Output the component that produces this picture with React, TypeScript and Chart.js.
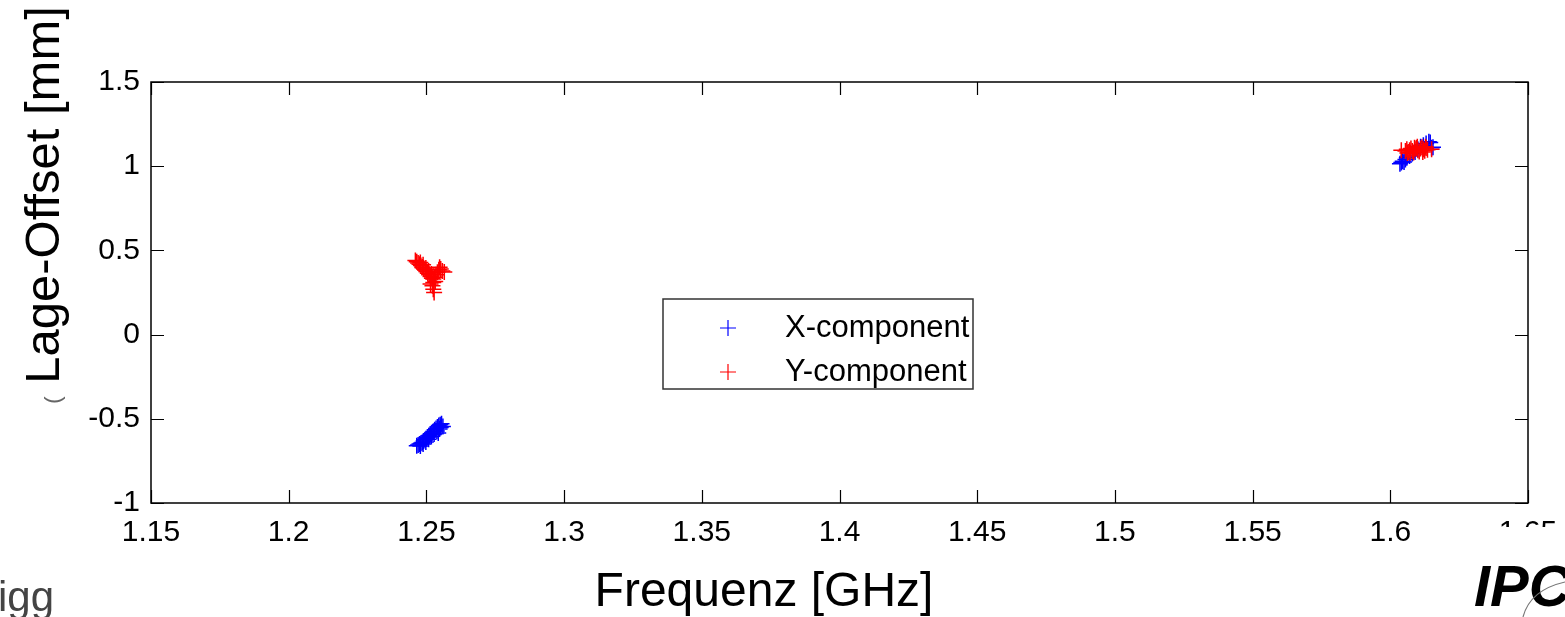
import { useEffect, useRef } from "react";
import { Chart, registerables } from "chart.js";

Chart.register(...registerables);

// Axis ticks
const xTicks = [1.15, 1.2, 1.25, 1.3, 1.35, 1.4, 1.45, 1.5, 1.55, 1.6, 1.65];
const yTicks = [-1, -0.5, 0, 0.5, 1, 1.5];

// Series names and colours
const seriesLabels = ["X-component", "Y-component"];
const seriesColors = ["#0000ff", "#ff0000"];

// X-component: frequency [GHz] and offset [mm]
const xCompFreq = [
  1.2465, 1.247, 1.2475, 1.248, 1.2478, 1.2485, 1.249, 1.2488, 1.2495, 1.25,
  1.2498, 1.2505, 1.251, 1.2508, 1.2515, 1.252, 1.2518, 1.2525, 1.253, 1.2528,
  1.2535, 1.254, 1.2538, 1.2545, 1.255, 1.2555, 1.2548, 1.256, 1.2552, 1.2543,
  1.6035, 1.604, 1.6045, 1.605, 1.6055, 1.606, 1.607, 1.608, 1.609, 1.61,
  1.611, 1.612, 1.613, 1.614, 1.6145, 1.615, 1.6155,
];
const xCompOffset = [
  -0.66, -0.655, -0.65, -0.645, -0.662, -0.64, -0.632, -0.65, -0.625, -0.618,
  -0.638, -0.61, -0.6, -0.622, -0.592, -0.585, -0.605, -0.575, -0.565, -0.59,
  -0.558, -0.548, -0.572, -0.54, -0.535, -0.53, -0.56, -0.545, -0.552, -0.585,
  1.015, 1.022, 1.03, 1.025, 1.04, 1.05, 1.06, 1.075, 1.085, 1.1,
  1.115, 1.125, 1.135, 1.145, 1.14, 1.11, 1.112,
];

// Y-component: frequency [GHz] and offset [mm]
const yCompFreq = [
  1.246, 1.2465, 1.247, 1.2475, 1.248, 1.2478, 1.2485, 1.249, 1.2488, 1.2495,
  1.25, 1.2498, 1.2505, 1.251, 1.2508, 1.2515, 1.252, 1.2518, 1.2525, 1.253,
  1.2535, 1.254, 1.2545, 1.2548, 1.2552, 1.2558, 1.2565, 1.2525, 1.2522, 1.2525,
  1.2528, 1.2515, 1.2532,
  1.604, 1.6055, 1.606, 1.6065, 1.607, 1.6075, 1.608, 1.6085, 1.609, 1.6095,
  1.61, 1.6105, 1.611, 1.6115, 1.612, 1.6125, 1.613, 1.6135, 1.615, 1.6062,
  1.6088, 1.6118, 1.6072, 1.6098, 1.6128,
];
const yCompOffset = [
  0.44, 0.432, 0.425, 0.418, 0.41, 0.428, 0.402, 0.395, 0.415, 0.385,
  0.375, 0.395, 0.365, 0.355, 0.378, 0.345, 0.335, 0.36, 0.33, 0.34,
  0.355, 0.37, 0.385, 0.4, 0.39, 0.378, 0.372, 0.31, 0.29, 0.27,
  0.25, 0.3, 0.315,
  1.095, 1.09, 1.1, 1.085, 1.095, 1.105, 1.09, 1.082, 1.1, 1.108,
  1.095, 1.088, 1.105, 1.112, 1.1, 1.092, 1.108, 1.098, 1.1, 1.078,
  1.11, 1.085, 1.08, 1.115, 1.116,
];

const xTitle = "Frequenz [GHz]";
const yTitle = "Lage-Offset [mm]";

const FONT = "'Liberation Sans', Arial, Helvetica, sans-serif";

const toPoints = (xs: number[], ys: number[]) => xs.map((x, i) => ({ x, y: ys[i] }));
const fmt = (v: number) => String(Number(v.toFixed(2)));

// Box, inward ticks, legend and titles in the MATLAB figure style
const figureDecor = {
  id: "figureDecor",
  afterDatasetsDraw(chart: any) {
    const { ctx, chartArea: a, scales } = chart;
    const tick = 13;
    ctx.save();
    ctx.strokeStyle = "#000";
    ctx.lineWidth = 1.5;
    ctx.strokeRect(a.left, a.top, a.right - a.left, a.bottom - a.top);
    ctx.lineWidth = 1.2;
    ctx.beginPath();
    scales.x.ticks.forEach((t: any) => {
      const px = Math.round(scales.x.getPixelForValue(t.value)) + 0.5;
      ctx.moveTo(px, a.bottom);
      ctx.lineTo(px, a.bottom - tick);
      ctx.moveTo(px, a.top);
      ctx.lineTo(px, a.top + tick);
    });
    scales.y.ticks.forEach((t: any) => {
      const py = Math.round(scales.y.getPixelForValue(t.value)) + 0.5;
      ctx.moveTo(a.left, py);
      ctx.lineTo(a.left + tick, py);
      ctx.moveTo(a.right, py);
      ctx.lineTo(a.right - tick, py);
    });
    ctx.stroke();

    // legend box
    const lx = 663, ly = 299, lw = 310, lh = 90;
    ctx.fillStyle = "#fff";
    ctx.fillRect(lx, ly, lw, lh);
    ctx.strokeStyle = "#333";
    ctx.lineWidth = 1.5;
    ctx.strokeRect(lx, ly, lw, lh);
    const rows = [328, 372];
    chart.data.datasets.forEach((ds: any, i: number) => {
      const cy = rows[i];
      const cx = 728;
      ctx.strokeStyle = ds.borderColor;
      ctx.lineWidth = 1.2;
      ctx.beginPath();
      ctx.moveTo(cx - 8, cy);
      ctx.lineTo(cx + 8, cy);
      ctx.moveTo(cx, cy - 8);
      ctx.lineTo(cx, cy + 8);
      ctx.stroke();
      ctx.fillStyle = "#000";
      ctx.font = `31px ${FONT}`;
      ctx.textAlign = "left";
      ctx.textBaseline = "middle";
      ctx.fillText(ds.label, 785, cy);
    });
    ctx.restore();
  },
  afterDraw(chart: any) {
    const { ctx } = chart;
    ctx.save();
    // axis titles
    ctx.fillStyle = "#000";
    ctx.textAlign = "center";
    ctx.textBaseline = "alphabetic";
    ctx.font = `48px ${FONT}`;
    ctx.fillText(xTitle, 764, 606);
    ctx.save();
    ctx.translate(59, 195);
    ctx.rotate(-Math.PI / 2);
    ctx.font = `49px ${FONT}`;
    ctx.fillText(yTitle, 0, 0);
    ctx.restore();

    // small fragment beside the y title
    ctx.save();
    ctx.translate(60, 400);
    ctx.rotate(-Math.PI / 2);
    ctx.fillStyle = "#666";
    ctx.font = `22px ${FONT}`;
    ctx.fillText("(", 0, 0);
    ctx.restore();

    // lower right corner is covered by the logo area
    ctx.fillStyle = "#fff";
    ctx.fillRect(1462, 527, 103, 90);

    // footer text and logo
    ctx.fillStyle = "#444";
    ctx.font = `42px ${FONT}`;
    ctx.textAlign = "left";
    ctx.fillText("igg", -2, 611);

    ctx.fillStyle = "#000";
    ctx.font = `italic bold 58px ${FONT}`;
    ctx.fillText("IPC", 1474, 606);
    ctx.strokeStyle = "#777";
    ctx.lineWidth = 1.2;
    ctx.beginPath();
    ctx.moveTo(1523, 617);
    ctx.quadraticCurveTo(1530, 590, 1565, 582);
    ctx.stroke();
    ctx.restore();
  },
};

export default function App() {
  const canvasRef = useRef<HTMLCanvasElement | null>(null);

  useEffect(() => {
    if (!canvasRef.current) return;
    const chart = new Chart(canvasRef.current, {
      type: "scatter",
      data: {
        datasets: [
          {
            label: seriesLabels[0],
            data: toPoints(xCompFreq, xCompOffset),
            borderColor: seriesColors[0],
            backgroundColor: seriesColors[0],
            pointStyle: "cross",
            pointRadius: 8,
            pointBorderWidth: 1.5,
            order: 1,
          },
          {
            label: seriesLabels[1],
            data: toPoints(yCompFreq, yCompOffset),
            borderColor: seriesColors[1],
            backgroundColor: seriesColors[1],
            pointStyle: "cross",
            pointRadius: 8,
            pointBorderWidth: 1.5,
            order: 0,
          },
        ],
      },
      options: {
        responsive: false,
        animation: false,
        events: [],
        layout: { padding: { left: 0, top: 82, right: 37, bottom: 0 } },
        plugins: {
          legend: { display: false },
          tooltip: { enabled: false },
        },
        scales: {
          x: {
            type: "linear",
            min: 1.15,
            max: 1.65,
            afterBuildTicks: (s: any) => {
              s.ticks = xTicks.map((value) => ({ value }));
            },
            afterFit: (s: any) => {
              s.height = 617 - 82 - 421;
              s.paddingLeft = 0;
              s.paddingRight = 0;
            },
            grid: { display: false, drawTicks: false },
            border: { display: false },
            ticks: {
              color: "#000",
              padding: 12,
              maxRotation: 0,
              autoSkip: false,
              font: { family: FONT, size: 30 },
              callback: (v: any) => fmt(Number(v)),
            },
          },
          y: {
            type: "linear",
            min: -1,
            max: 1.5,
            afterBuildTicks: (s: any) => {
              s.ticks = yTicks.map((value) => ({ value }));
            },
            afterFit: (s: any) => {
              s.width = 151;
              s.paddingTop = 0;
              s.paddingBottom = 0;
            },
            grid: { display: false, drawTicks: false },
            border: { display: false },
            ticks: {
              color: "#000",
              padding: 11,
              autoSkip: false,
              font: { family: FONT, size: 30 },
              callback: (v: any) => fmt(Number(v)),
            },
          },
        },
      },
      plugins: [figureDecor],
    });
    return () => chart.destroy();
  }, []);

  return (
    <div style={{ position: "fixed", left: 0, top: 0, width: 1565, height: 617, background: "#fff" }}>
      <canvas ref={canvasRef} width={1565} height={617} style={{ display: "block", width: 1565, height: 617 }} />
    </div>
  );
}
